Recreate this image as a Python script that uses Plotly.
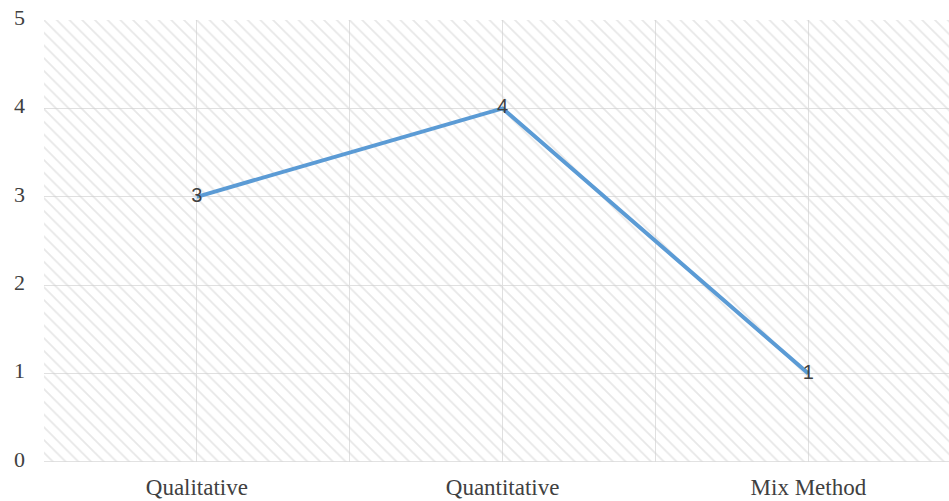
import plotly.graph_objects as go

categories = ["Qualitative", "Quantitative", "Mix Method"]
counts = [3, 4, 1]
y_ticks = [0, 1, 2, 3, 4, 5]

x_pos = list(range(len(categories)))
x_range = [-0.5, len(categories) - 0.54]
y_range = [0, 5]

fig = go.Figure()

# hatched plot background (transparent base so gridlines stay visible)
fig.add_trace(go.Scatter(
    x=[x_range[0], x_range[1], x_range[1], x_range[0], x_range[0]],
    y=[y_range[0], y_range[0], y_range[1], y_range[1], y_range[0]],
    mode="lines", line=dict(width=0), fill="toself",
    fillcolor="rgba(0,0,0,0)",
    fillpattern=dict(shape="\\", fgcolor="#d0d0d0", bgcolor="rgba(0,0,0,0)",
                     size=9, solidity=0.2),
    hoverinfo="skip", showlegend=False,
))

fig.add_trace(go.Scatter(
    x=x_pos, y=counts, mode="lines+text",
    line=dict(color="#5B9BD5", width=4),
    text=[str(v) for v in counts], textposition="middle center",
    textfont=dict(family="Liberation Sans, Arial", size=20, color="#404040"),
    showlegend=False, cliponaxis=False,
))

fig.update_layout(
    width=949, height=501,
    margin=dict(l=44, r=0, t=20, b=39),
    paper_bgcolor="white", plot_bgcolor="white",
    xaxis=dict(
        range=x_range, tickvals=x_pos, ticktext=categories,
        showgrid=False, zeroline=False, showline=False, ticks="",
        tickfont=dict(family="Liberation Serif, Times New Roman", size=23, color="#404040"),
        ticklabelstandoff=9,
        minor=dict(tick0=-0.5, dtick=0.5, showgrid=True, gridcolor="#e0e0e0", gridwidth=1),
    ),
    yaxis=dict(
        range=y_range, tickvals=y_ticks, showgrid=True, gridcolor="#e0e0e0", gridwidth=1,
        zeroline=False, showline=False, ticks="",
        tickfont=dict(family="Liberation Serif, Times New Roman", size=22, color="#404040"),
        ticklabelstandoff=18, ticklabelshift=-3,
    ),
    shapes=[dict(type="line", xref="paper", yref="y", x0=0, x1=1, y0=0, y1=0,
                 line=dict(color="#d9d9d9", width=1.5))],
)

fig.write_html("out.html")
